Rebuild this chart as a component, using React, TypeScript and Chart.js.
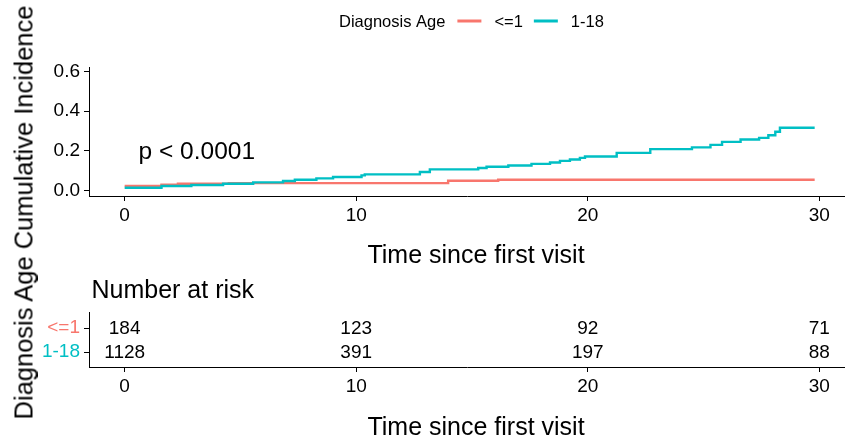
import React, { useEffect, useRef } from 'react';
import { Chart, registerables } from 'chart.js';

Chart.register(...registerables);

// ---------- data ----------
const groups = ['<=1', '1-18'];
const groupColors = ['#F8766D', '#00BFC4'];
const legendTitle = 'Diagnosis Age';

const timeLow = [0, 1.59, 2.3, 4.5, 13.97, 16.13, 29.8];
const incLow = [0.024, 0.03, 0.035, 0.038, 0.05, 0.055, 0.055];

const timeHigh = [
  0, 1.59, 2.88, 4.25, 5.55, 6.84, 7.35, 8.28, 9.0, 10.23, 10.37, 12.75, 13.18,
  15.27, 15.63, 16.57, 17.57, 18.37, 18.8, 19.23, 19.66, 19.88, 21.25, 22.7,
  24.5, 25.3, 25.8, 26.6, 27.4, 27.8, 28.1, 28.3, 29.8,
];
const incHigh = [
  0.015, 0.024, 0.029, 0.035, 0.042, 0.049, 0.055, 0.062, 0.069, 0.077, 0.082,
  0.094, 0.107, 0.114, 0.12, 0.127, 0.135, 0.142, 0.15, 0.157, 0.165, 0.172,
  0.19, 0.209, 0.2175, 0.2305, 0.2456, 0.2576, 0.2657, 0.279, 0.296, 0.316, 0.316,
];

const xTicks = [0, 10, 20, 30];
const yTicks = [0, 0.2, 0.4, 0.6];
const riskTimes = [0, 10, 20, 30];
const riskLow = [184, 123, 92, 71];
const riskHigh = [1128, 391, 197, 88];

const pValueText = 'p < 0.0001';
const pValueX = 0.6;
const pValueY = 0.194;
const xTitle = 'Time since first visit';
const yTitle = 'Diagnosis Age Cumulative Incidence';
const riskTitle = 'Number at risk';

// ---------- styles ----------
const FONT = "'Liberation Sans', Arial, Helvetica, sans-serif";
const X_MIN = -1.54;
const X_MAX = 31.11;
const X_TITLE_CENTER = 476;

function makeXScale(height: number) {
  return {
    type: 'linear',
    min: X_MIN,
    max: X_MAX,
    afterBuildTicks: (s: any) => {
      s.ticks = xTicks.map((v) => ({ value: v }));
    },
    afterFit: (s: any) => {
      s.height = height;
    },
    grid: {
      display: true,
      drawOnChartArea: false,
      drawTicks: true,
      tickLength: 5,
      color: '#000',
      lineWidth: 1,
    },
    border: { display: true, color: '#000', width: 1 },
    ticks: {
      color: '#000',
      font: { family: FONT, size: 19 },
      padding: 3,
      maxRotation: 0,
      autoSkip: false,
      callback: (v: any) => String(v),
    },
  };
}

function makeXTitlePlugin(offsetBelowAxis: number) {
  return {
    id: 'xTitle',
    afterDraw(chart: any) {
      const ctx = chart.ctx;
      ctx.save();
      ctx.font = `25px ${FONT}`;
      ctx.textBaseline = 'middle';
      ctx.textAlign = 'center';
      ctx.fillStyle = '#000';
      ctx.fillText(xTitle, X_TITLE_CENTER, chart.chartArea.bottom + offsetBelowAxis);
      ctx.restore();
    },
  };
}

const legendPlugin = {
  id: 'customLegend',
  afterDraw(chart: any) {
    const ctx = chart.ctx;
    ctx.save();
    ctx.font = `16.5px ${FONT}`;
    ctx.textBaseline = 'middle';
    ctx.textAlign = 'left';
    ctx.fillStyle = '#000';
    let x = 339;
    const y = 22;
    ctx.fillText(legendTitle, x, y);
    x += ctx.measureText(legendTitle).width + 12;
    groups.forEach((g, i) => {
      ctx.strokeStyle = groupColors[i];
      ctx.lineWidth = 3;
      ctx.beginPath();
      ctx.moveTo(x, y - 1);
      ctx.lineTo(x + 24, y - 1);
      ctx.stroke();
      x += 24 + 13;
      ctx.fillStyle = '#000';
      ctx.fillText(g, x, y);
      x += ctx.measureText(g).width + 11;
    });
    ctx.restore();
  },
};

const pValuePlugin = {
  id: 'pValue',
  afterDatasetsDraw(chart: any) {
    const ctx = chart.ctx;
    const x = chart.scales.x.getPixelForValue(pValueX);
    const y = chart.scales.y.getPixelForValue(pValueY);
    ctx.save();
    ctx.font = `24.5px ${FONT}`;
    ctx.textBaseline = 'middle';
    ctx.textAlign = 'left';
    ctx.fillStyle = '#000';
    ctx.fillText(pValueText, x, y);
    ctx.restore();
  },
};

const riskTextPlugin = {
  id: 'riskText',
  afterDatasetsDraw(chart: any) {
    const ctx = chart.ctx;
    ctx.save();
    ctx.font = `19px ${FONT}`;
    ctx.textBaseline = 'middle';
    ctx.textAlign = 'center';
    ctx.fillStyle = '#000';
    chart.data.datasets.forEach((ds: any, i: number) => {
      const meta = chart.getDatasetMeta(i);
      meta.data.forEach((el: any, j: number) => {
        ctx.fillText(String(ds.counts[j]), el.x, el.y + 1);
      });
    });
    ctx.font = `25px ${FONT}`;
    ctx.textAlign = 'left';
    ctx.fillText(riskTitle, chart.chartArea.left + 2.5, chart.chartArea.top - 21);
    ctx.restore();
  },
};

export default function App() {
  const topRef = useRef<HTMLCanvasElement | null>(null);
  const botRef = useRef<HTMLCanvasElement | null>(null);

  useEffect(() => {
    const top = new Chart(topRef.current as HTMLCanvasElement, {
      type: 'line',
      data: {
        datasets: [
          {
            label: groups[0],
            data: timeLow.map((t, i) => ({ x: t, y: incLow[i] })),
            borderColor: groupColors[0],
            backgroundColor: groupColors[0],
            borderWidth: 2.4,
            stepped: true,
            pointRadius: 0,
            fill: false,
            order: 1,
          },
          {
            label: groups[1],
            data: timeHigh.map((t, i) => ({ x: t, y: incHigh[i] })),
            borderColor: groupColors[1],
            backgroundColor: groupColors[1],
            borderWidth: 2.4,
            stepped: true,
            pointRadius: 0,
            fill: false,
            order: 0,
          },
        ],
      },
      options: {
        animation: false,
        responsive: false,
        layout: { padding: { top: 67, left: 0, right: 0, bottom: 0 } },
        plugins: { legend: { display: false }, tooltip: { enabled: false } },
        scales: {
          x: makeXScale(74) as any,
          y: {
            type: 'linear',
            min: -0.0266,
            max: 0.6216,
            afterBuildTicks: (s: any) => {
              s.ticks = yTicks.map((v) => ({ value: v }));
            },
            afterFit: (s: any) => {
              s.width = 89;
            },
            grid: {
              display: true,
              drawOnChartArea: false,
              drawTicks: true,
              tickLength: 5,
              color: '#000',
              lineWidth: 1,
            },
            border: { display: true, color: '#000', width: 1 },
            ticks: {
              color: '#000',
              font: { family: FONT, size: 19 },
              padding: 4,
              callback: (v: any) => Number(v).toFixed(1),
            },
          },
        },
      },
      plugins: [legendPlugin, pValuePlugin, makeXTitlePlugin(60)],
    } as any);

    const bot = new Chart(botRef.current as HTMLCanvasElement, {
      type: 'line',
      data: {
        datasets: [
          {
            label: groups[0],
            data: riskTimes.map((t) => ({ x: t, y: 1 })),
            counts: riskLow,
            showLine: false,
            pointRadius: 0,
          },
          {
            label: groups[1],
            data: riskTimes.map((t) => ({ x: t, y: 2 })),
            counts: riskHigh,
            showLine: false,
            pointRadius: 0,
          },
        ] as any,
      },
      options: {
        animation: false,
        responsive: false,
        layout: { padding: { top: 42, left: 0, right: 0, bottom: 0 } },
        plugins: { legend: { display: false }, tooltip: { enabled: false } },
        scales: {
          x: makeXScale(72) as any,
          y: {
            type: 'linear',
            reverse: true,
            min: 0.333,
            max: 2.625,
            afterBuildTicks: (s: any) => {
              s.ticks = [{ value: 1 }, { value: 2 }];
            },
            afterFit: (s: any) => {
              s.width = 89;
            },
            grid: {
              display: true,
              drawOnChartArea: false,
              drawTicks: true,
              tickLength: 5,
              color: '#000',
              lineWidth: 1,
            },
            border: { display: true, color: '#000', width: 1 },
            ticks: {
              font: { family: FONT, size: 19 },
              padding: 4,
              color: (c: any) => groupColors[c.index] || '#000',
              callback: (v: any) => groups[Math.round(Number(v)) - 1],
            },
          },
        },
      },
      plugins: [riskTextPlugin, makeXTitlePlugin(61)],
    } as any);

    return () => {
      top.destroy();
      bot.destroy();
    };
  }, []);

  return (
    <div
      style={{
        position: 'absolute',
        left: 0,
        top: 0,
        width: 845,
        height: 439,
        background: '#fff',
        overflow: 'hidden',
      }}
    >
      <canvas
        ref={topRef}
        width={845}
        height={270}
        style={{ position: 'absolute', left: 0, top: 0, display: 'block' }}
      />
      <canvas
        ref={botRef}
        width={845}
        height={169}
        style={{ position: 'absolute', left: 0, top: 270, display: 'block' }}
      />
      <div
        style={{
          position: 'absolute',
          left: 24 - 220,
          top: 212 - 12.5,
          width: 440,
          height: 25,
          lineHeight: '25px',
          fontSize: 25.5,
          fontFamily: FONT,
          color: '#000',
          textAlign: 'center',
          whiteSpace: 'nowrap',
          transform: 'rotate(-90deg)',
          transformOrigin: '50% 50%',
        }}
      >
        {yTitle}
      </div>
    </div>
  );
}
